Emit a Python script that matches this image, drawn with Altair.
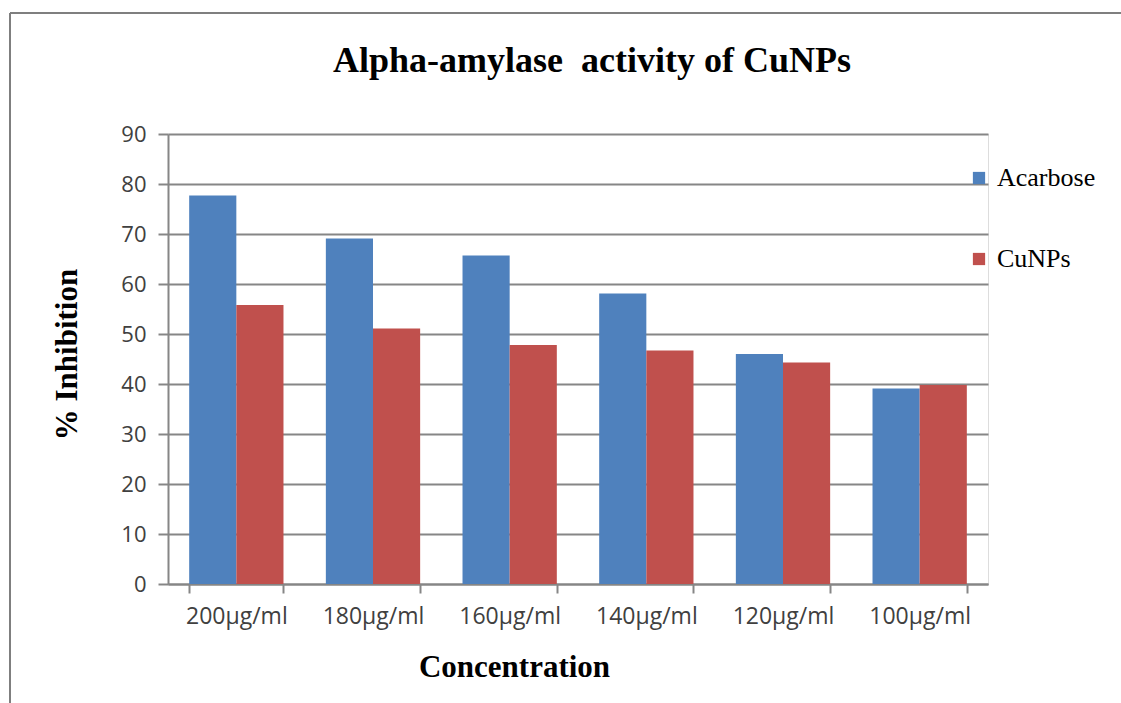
import altair as alt
import pandas as pd

categories = ["200µg/ml", "180µg/ml", "160µg/ml", "140µg/ml", "120µg/ml", "100µg/ml"]
series = ["Acarbose", "CuNPs"]
acarbose = [77.7, 69.1, 65.7, 58.1, 46.0, 39.1]
cunps = [55.8, 51.1, 47.8, 46.7, 44.3, 39.8]
colors = ["#4F81BD", "#C0504D"]
y_ticks = [0, 10, 20, 30, 40, 50, 60, 70, 80, 90]

rows = []
for c, a, b in zip(categories, acarbose, cunps):
    rows.append({"Concentration": c, "Series": "Acarbose", "Value": a})
    rows.append({"Concentration": c, "Series": "CuNPs", "Value": b})
df = pd.DataFrame(rows)

W, H = 820, 450
LEFT, TOP = 168, 134
TOTAL_W, TOTAL_H = 1121, 703

SERIF = "Liberation Serif"
SANS = "Open Sans"
GRID = "#868686"

bars = alt.Chart(df).mark_bar(stroke=None).encode(
    x=alt.X(
        "Concentration:N",
        sort=categories,
        scale=alt.Scale(paddingInner=0.31, paddingOuter=0.155),
        axis=alt.Axis(
            title="Concentration",
            titleFont=SERIF,
            titleFontSize=31,
            titleFontWeight="bold",
            titleColor="#000000",
            titleX=346,
            titleY=83,
            titleBaseline="middle",
            labelAngle=0,
            labelFont=SANS,
            labelFontSize=23,
            labelColor="#404040",
            labelPadding=12,
            tickBand="extent",
            tickSize=9,
            tickWidth=2,
            tickColor=GRID,
            domainColor=GRID,
            domainWidth=2,
            grid=False,
        ),
    ),
    xOffset=alt.XOffset("Series:N", sort=series),
    y=alt.Y(
        "Value:Q",
        scale=alt.Scale(domain=[0, 90], nice=False),
        axis=alt.Axis(
            values=y_ticks,
            title="% Inhibition",
            titleFont=SERIF,
            titleFontSize=31,
            titleFontWeight="bold",
            titleColor="#000000",
            titleAngle=-90,
            titleX=-101,
            titleY=220,
            titleBaseline="middle",
            titleAlign="center",
            labelFont=SANS,
            labelFontSize=22,
            labelColor="#404040",
            labelPadding=12,
            tickSize=10,
            tickWidth=2,
            tickColor=GRID,
            domainColor=GRID,
            domainWidth=2,
            grid=True,
            gridColor=GRID,
            gridWidth=2,
        ),
    ),
    color=alt.Color(
        "Series:N",
        sort=series,
        scale=alt.Scale(domain=series, range=colors),
        legend=alt.Legend(
            title=None,
            orient="none",
            legendX=798,
            legendY=31,
            symbolType="square",
            symbolSize=150,
            symbolStrokeWidth=0,
            labelFont=SERIF,
            labelFontSize=26,
            labelColor="#000000",
            labelOffset=5,
            rowPadding=55,
        ),
    ),
)

frame = pd.DataFrame({"k": [0]})
top_line = alt.Chart(frame).mark_rule(color="#7f7f7f", strokeWidth=2).encode(
    x=alt.value(10 - LEFT), x2=alt.value(TOTAL_W - LEFT), y=alt.value(13 - TOP)
)
left_line = alt.Chart(frame).mark_rule(color="#7f7f7f", strokeWidth=2).encode(
    x=alt.value(10 - LEFT), y=alt.value(13 - TOP), y2=alt.value(TOTAL_H - TOP)
)

chart = alt.layer(bars, top_line, left_line).properties(
    width=W,
    height=H,
    autosize=alt.AutoSizeParams(type="none"),
    padding={"left": LEFT, "top": TOP, "right": TOTAL_W - LEFT - W, "bottom": TOTAL_H - TOP - H},
    title=alt.TitleParams(
        "Alpha-amylase \u00a0activity of CuNPs",
        font=SERIF,
        fontSize=36,
        fontWeight="bold",
        color="#000000",
        anchor="middle",
        dx=14,
        dy=68,
        offset=0,
    ),
).configure_view(stroke=None).configure(background="#ffffff")

chart.save("out.html", embed_options={"renderer": "svg", "actions": False})
